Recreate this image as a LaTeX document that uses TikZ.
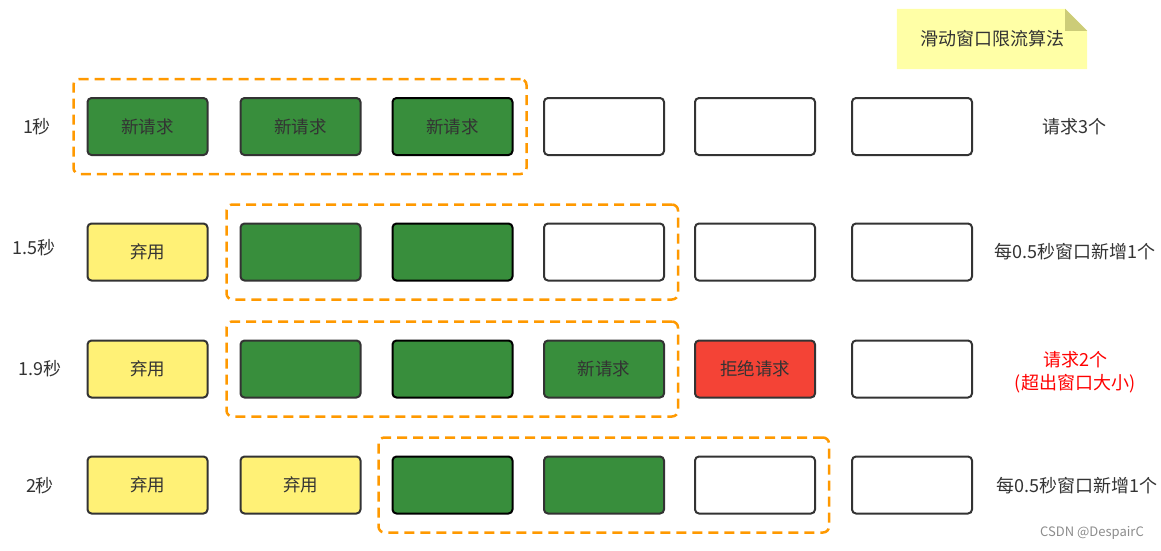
\documentclass[tikz,border=0pt]{standalone}
\usepackage{fontspec}
\setmainfont{Noto Sans CJK SC}
\usetikzlibrary{fit,calc}
\definecolor{reqgreen}{HTML}{388E3C}
\definecolor{dropyellow}{HTML}{FFF176}
\definecolor{denyred}{HTML}{F44336}
\definecolor{winorange}{HTML}{FF9900}
\definecolor{boxgray}{HTML}{333333}
\definecolor{textgray}{HTML}{333333}
\definecolor{notefill}{HTML}{FFFFA6}
\definecolor{notefold}{HTML}{CCCC78}
\begin{document}
\begin{tikzpicture}[x=1pt,y=-1pt]
    \tikzset{slot/.style = {shape=rectangle,draw=boxgray,line width=2pt,rounded corners=4pt,minimum width=120pt,minimum height=57pt,font=\fontsize{17.5}{20}\selectfont,text=textgray}}
    \tikzset{used/.style = {slot,fill=reqgreen}}
    \tikzset{old/.style = {slot,fill=dropyellow}}
    \tikzset{deny/.style = {slot,fill=denyred}}
    \tikzset{window/.style = {draw=winorange,line width=2.5pt,dash pattern=on 10pt off 6pt,rounded corners=6pt,inner xsep=13pt,inner ysep=18pt}}
    \tikzset{lbl/.style = {font=\fontsize{18}{20}\selectfont,text=textgray,align=center}}
    \useasboundingbox (0,0) rectangle (1161,550);
    % title note
    \node[lbl,minimum width=190pt,minimum height=60pt] (note) at (992,39) {};
    \fill[notefill] (note.north west) -- ($(note.north east)+(-22,0)$) -- ($(note.north east)+(0,22)$) -- (note.south east) -- (note.south west) -- cycle;
    \fill[notefold] ($(note.north east)+(-22,0)$) -- ($(note.north east)+(-22,22)$) -- ($(note.north east)+(0,22)$) -- cycle;
    \node[lbl] (title) at (note.center) {滑动窗口限流算法};
    % row 1
    \node[lbl] (t1) at (37,127) {1秒};
    \node[used] (a1) at (147.5,126.5) {新请求};
    \node[used] (a2) at (300.5,126.5) {新请求};
    \node[used,draw=black] (a3) at (452.5,126.5) {新请求};
    \node[slot] (a4) at (604,126.5) {};
    \node[slot] (a5) at (755,126.5) {};
    \node[slot] (a6) at (912,126.5) {};
    \node[lbl] (n1) at (1074,127) {请求3个};
    \node[window,fit=(a1)(a3)] (w1) {};
    % row 2
    \node[lbl] (t2) at (34,248) {1.5秒};
    \node[old] (b1) at (147.5,252) {弃用};
    \node[used] (b2) at (300.5,252) {};
    \node[used,draw=black] (b3) at (452.5,252) {};
    \node[slot] (b4) at (604,252) {};
    \node[slot] (b5) at (755,252) {};
    \node[slot] (b6) at (912,252) {};
    \node[lbl] (n2) at (1075,252) {每0.5秒窗口新增1个};
    \node[window,fit=(b2)(b4)] (w2) {};
    % row 3
    \node[lbl] (t3) at (40,369) {1.9秒};
    \node[old] (c1) at (147.5,369) {弃用};
    \node[used] (c2) at (300.5,369) {};
    \node[used,draw=black] (c3) at (452.5,369) {};
    \node[used] (c4) at (604,369) {新请求};
    \node[deny] (c5) at (755,369) {拒绝请求};
    \node[slot] (c6) at (912,369) {};
    \node[lbl,text=red,font=\fontsize{18}{23}\selectfont] (n3) at (1075,372) {请求2个\\(超出窗口大小)};
    \node[window,fit=(c2)(c4)] (w3) {};
    % row 4
    \node[lbl] (t4) at (40,486) {2秒};
    \node[old] (d1) at (147.5,485) {弃用};
    \node[old] (d2) at (300.5,485) {弃用};
    \node[used,draw=black] (d3) at (452.5,485) {};
    \node[used] (d4) at (604,485) {};
    \node[slot] (d5) at (755,485) {};
    \node[slot] (d6) at (912,485) {};
    \node[lbl] (n4) at (1077,486) {每0.5秒窗口新增1个};
    \node[window,fit=(d3)(d5)] (w4) {};
    % watermark
    \node[font=\fontsize{13}{15}\selectfont,text=black!45] (mark) at (1092,533) {CSDN @DespairC};
\end{tikzpicture}
\end{document}
